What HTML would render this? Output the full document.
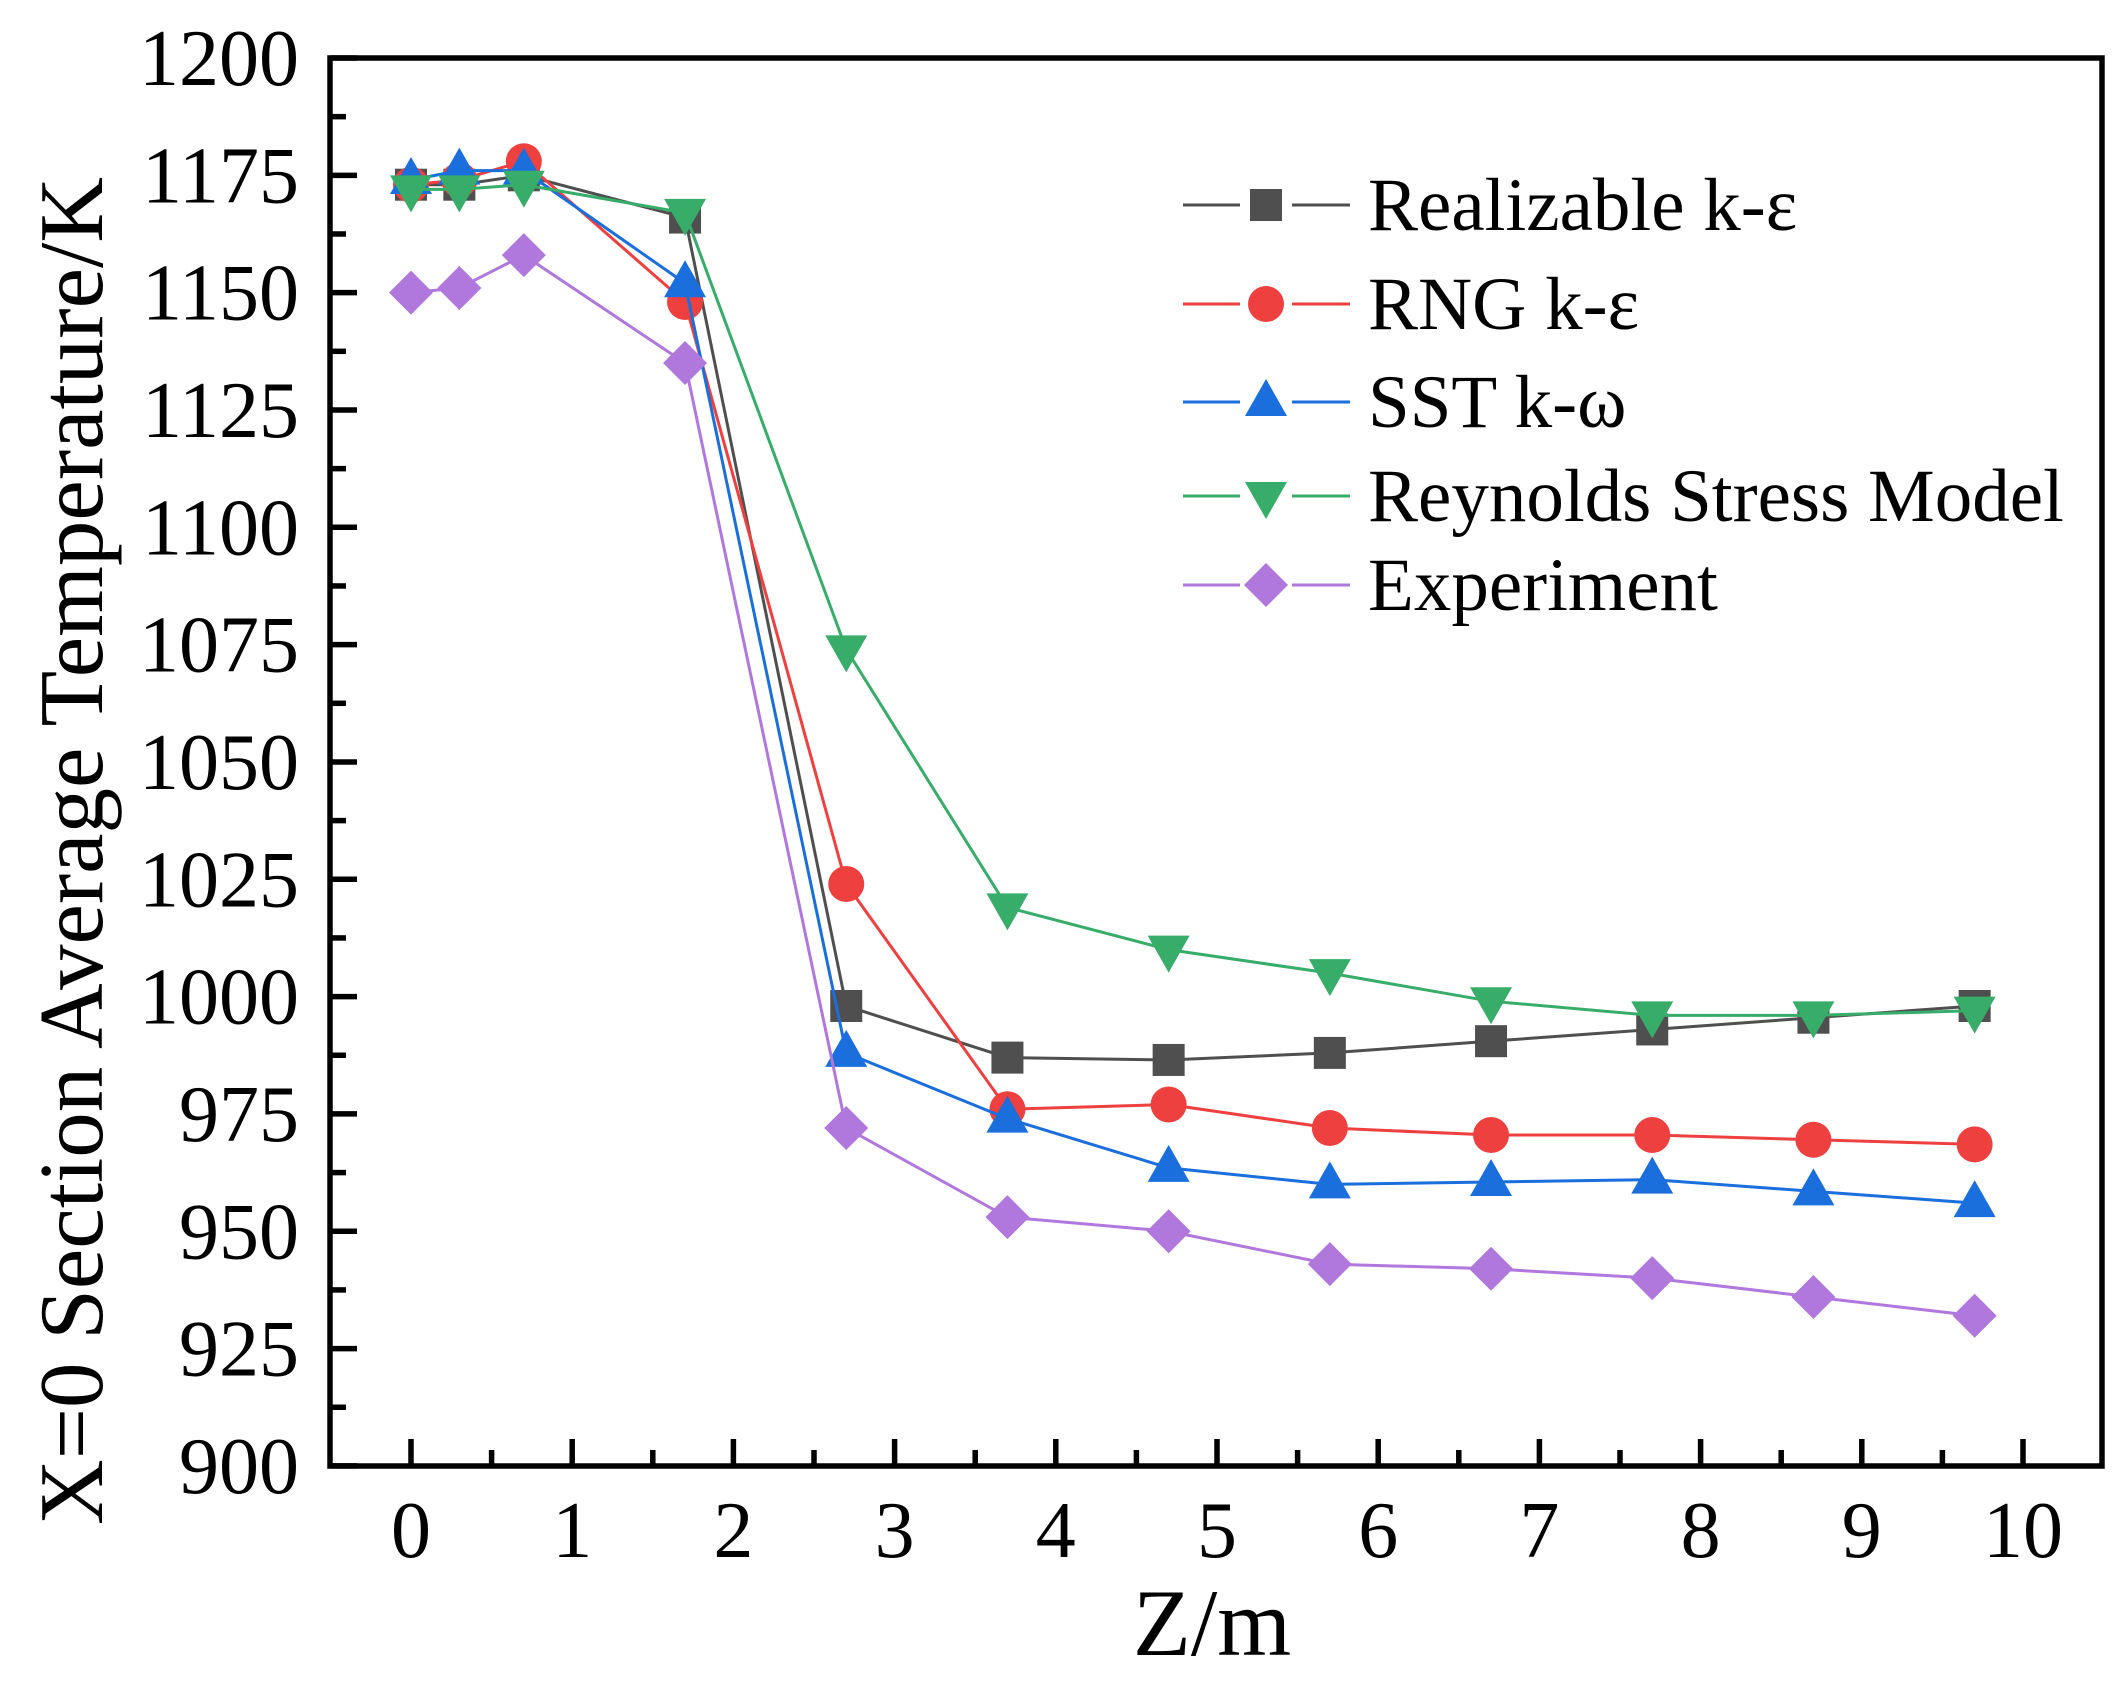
<!DOCTYPE html>
<html><head><meta charset="utf-8"><style>html,body{margin:0;padding:0;background:#fff}</style></head>
<body>
<svg id="s" width="2128" height="1680" xmlns="http://www.w3.org/2000/svg" font-family="Liberation Serif, serif"></svg>
<script>
const s=document.getElementById('s');let h='';
const X=z=>411+161.2*z, Y=v=>58+(1200-v)*4.693;
const L=330,R=2102,T=58,B=1466;
for(let v=900;v<=1200;v+=12.5){const maj=(v%25===0);const y=Y(v);
 h+=`<line x1="${L}" x2="${L+(maj?27:16)}" y1="${y}" y2="${y}" stroke="#000" stroke-width="5.5"/>`;
 if(maj)h+=`<text x="299" y="${y+27}" font-size="80" text-anchor="end">${v}</text>`;}
for(let z=0;z<=10;z+=0.5){const maj=(z%1===0);const x=X(z);
 h+=`<line x1="${x}" x2="${x}" y1="${B}" y2="${B-(maj?27:16)}" stroke="#000" stroke-width="5.5"/>`;
 if(maj)h+=`<text x="${x}" y="1557" font-size="80" text-anchor="middle">${z}</text>`;}
h+=`<rect x="${L}" y="${T}" width="${R-L}" height="${B-T}" fill="none" stroke="#000" stroke-width="5.5"/>`;
h+=`<text x="1212" y="1655" font-size="95" text-anchor="middle">Z/m</text>`;
h+=`<text transform="translate(102,851) rotate(-90)" font-size="91" text-anchor="middle">X=0 Section Average Temperature/K</text>`;
const zs=[0,0.3,0.7,1.7,2.7,3.7,4.7,5.7,6.7,7.7,8.7,9.7];
const S=[
 ['#4f4f4f','sq',[1173,1173,1175,1166,998,987,986.5,988,990.5,993,995.5,998],'Realizable k-ε'],
 ['#ef4040','ci',[1173,1174,1178,1148,1024,976,977,972,970.5,970.5,969.5,968.5],'RNG k-ε'],
 ['#1a6fdc','tu',[1174,1176,1176,1152,988,974,963.5,960,960.5,961,958.5,956],'SST k-ω'],
 ['#38ad6a','td',[1172,1172,1173,1167,1074,1019,1010,1005,999,996,996,997],'Reynolds Stress Model'],
 ['#b077dc','di',[1150,1151,1158,1135,972,953,950,943,942,940,936,932],'Experiment']];
function mk(t,x,y,c){
 if(t=='sq')return `<rect x="${x-16}" y="${y-16}" width="32" height="32" fill="${c}"/>`;
 if(t=='ci')return `<circle cx="${x}" cy="${y}" r="18" fill="${c}"/>`;
 if(t=='tu')return `<polygon points="${x},${y-23} ${x+21},${y+14} ${x-21},${y+14}" fill="${c}"/>`;
 if(t=='td')return `<polygon points="${x},${y+23} ${x+21},${y-14} ${x-21},${y-14}" fill="${c}"/>`;
 return `<polygon points="${x},${y-22} ${x+22},${y} ${x},${y+22} ${x-22},${y}" fill="${c}"/>`;}
S.forEach((sr,i)=>{const [c,t,v,n]=sr;
 h+=`<polyline fill="none" stroke="${c}" stroke-width="3" points="${zs.map((z,k)=>X(z)+','+Y(v[k])).join(' ')}"/>`;
 zs.forEach((z,k)=>h+=mk(t,X(z),Y(v[k]),c));
 const ly=[205,304,402,496,585][i];
 h+=`<line x1="1183" x2="1240" y1="${ly}" y2="${ly}" stroke="${c}" stroke-width="3"/><line x1="1292" x2="1350" y1="${ly}" y2="${ly}" stroke="${c}" stroke-width="3"/>`;
 h+=mk(t,1266,ly,c);
 h+=`<text x="1368" y="${ly+25}" font-size="75">${n}</text>`;});
s.innerHTML=h;
</script>
</body></html>
